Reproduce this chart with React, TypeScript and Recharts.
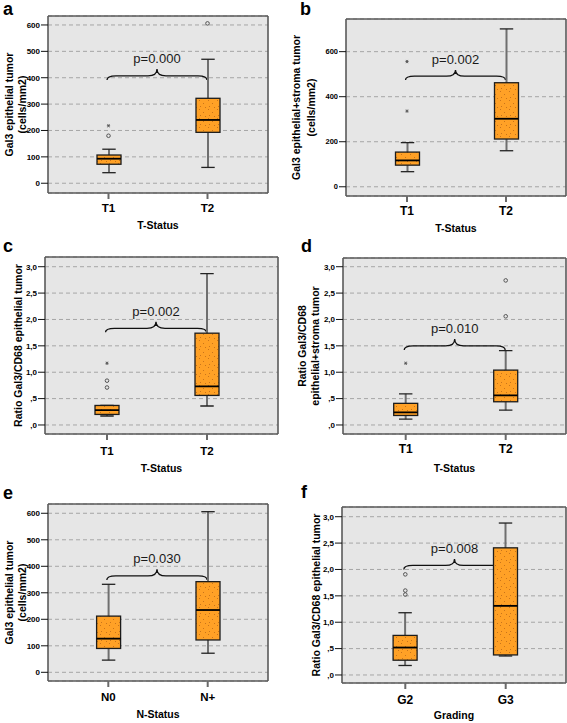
import React from "react";
import {
  ComposedChart,
  Bar,
  Scatter,
  XAxis,
  YAxis,
  CartesianGrid,
  ReferenceArea,
} from "recharts";

// ---------------- DATA ----------------
// box stats: [min, Q1, median, Q3, max]
const panelACategories = ["T1", "T2"];
const panelABoxes = [
  [40, 72, 93, 107, 129],
  [60, 193, 240, 322, 470],
];
const panelAOutliers = [
  { cat: "T1", value: 180, kind: "o" },
  { cat: "T1", value: 218, kind: "*" },
  { cat: "T2", value: 606, kind: "o" },
];
const panelABrace = [391, 433];
const panelAP = "p=0.000";

const panelBCategories = ["T1", "T2"];
const panelBBoxes = [
  [67, 96, 117, 154, 196],
  [160, 212, 302, 462, 701],
];
const panelBOutliers = [
  { cat: "T1", value: 336, kind: "*" },
  { cat: "T1", value: 556, kind: "*" },
];
const panelBBrace = [474, 519];
const panelBP = "p=0.002";

const panelCCategories = ["T1", "T2"];
const panelCBoxes = [
  [0.17, 0.2, 0.28, 0.37, 0.37],
  [0.36, 0.56, 0.73, 1.74, 2.87],
];
const panelCOutliers = [
  { cat: "T1", value: 1.17, kind: "*" },
  { cat: "T1", value: 0.84, kind: "o" },
  { cat: "T1", value: 0.71, kind: "o" },
];
const panelCBrace = [1.756, 1.956];
const panelCP = "p=0.002";

const panelDCategories = ["T1", "T2"];
const panelDBoxes = [
  [0.11, 0.18, 0.24, 0.41, 0.59],
  [0.28, 0.44, 0.56, 1.04, 1.41],
];
const panelDOutliers = [
  { cat: "T1", value: 1.17, kind: "*" },
  { cat: "T2", value: 2.06, kind: "o" },
  { cat: "T2", value: 2.74, kind: "o" },
];
const panelDBrace = [1.42, 1.63];
const panelDP = "p=0.010";

const panelECategories = ["N0", "N+"];
const panelEBoxes = [
  [46, 90, 127, 212, 332],
  [72, 122, 235, 342, 606],
];
const panelEOutliers: { cat: string; value: number; kind: string }[] = [];
const panelEBrace = [348, 389];
const panelEP = "p=0.030";

const panelFCategories = ["G2", "G3"];
const panelFBoxes = [
  [0.18, 0.28, 0.52, 0.75, 1.18],
  [0.36, 0.38, 1.31, 2.41, 2.88],
];
const panelFOutliers = [
  { cat: "G2", value: 1.525, kind: "o" },
  { cat: "G2", value: 1.6, kind: "o" },
  { cat: "G2", value: 1.907, kind: "o" },
];
const panelFBrace = [2.0, 2.2];
const panelFP = "p=0.008";

const countTicks = [0, 100, 200, 300, 400, 500, 600];
const countTickLabels = ["0", "100", "200", "300", "400", "500", "600"];
const countTicksB = [0, 200, 400, 600];
const countTickLabelsB = ["0", "200", "400", "600"];
const ratioTicks = [0, 0.5, 1, 1.5, 2, 2.5, 3];
const ratioTickLabels = [",0", ",5", "1,0", "1,5", "2,0", "2,5", "3,0"];

const panelLetters = ["a", "b", "c", "d", "e", "f"];

// ---------------- STYLE / LAYOUT ----------------
const FONT = "'Liberation Sans', Arial, Helvetica, sans-serif";
const BOX_FILL = "#ffa126";
const DOT = "#c9741a";

type PanelCfg = {
  letter: string;
  letterX: number;
  letterY: number;
  left: number;
  top: number;
  width: number;
  height: number;
  margin: { top: number; right: number; bottom: number; left: number };
  yWidth: number;
  xHeight: number;
  pad: { left: number; right: number };
  domain: [number, number];
  ticks: number[];
  tickLabels: string[];
  categories: string[];
  boxes: number[][];
  outliers: { cat: string; value: number; kind: string }[];
  brace: number[];
  pLabel: string;
  yTitle: string[];
  yTitleX: number[];
  xTitle: string;
  xTickBase: number;
  xTitleBase: number;
  yTickFont: number;
  xTickFont: number;
  titleFont: number;
};

const panels: PanelCfg[] = [
  {
    letter: panelLetters[0], letterX: 3, letterY: 15,
    left: 0, top: 0, width: 283, height: 240,
    margin: { top: 16, right: 15, bottom: 0, left: 0 },
    yWidth: 48, xHeight: 47, pad: { left: 11, right: 11 },
    domain: [-37, 634], ticks: countTicks, tickLabels: countTickLabels,
    categories: panelACategories, boxes: panelABoxes, outliers: panelAOutliers,
    brace: panelABrace, pLabel: panelAP,
    yTitle: ["Gal3 epithelial tumor", "(cells/mm2)"], yTitleX: [9, 21.5],
    xTitle: "T-Status", xTickBase: 19, xTitleBase: 36,
    yTickFont: 8, xTickFont: 11.5, titleFont: 10.5,
  },
  {
    letter: panelLetters[1], letterX: 300, letterY: 15,
    left: 283, top: 0, width: 284, height: 240,
    margin: { top: 19, right: 1, bottom: 0, left: 0 },
    yWidth: 63, xHeight: 44, pad: { left: 11.5, right: 10.5 },
    domain: [-41, 745], ticks: countTicksB, tickLabels: countTickLabelsB,
    categories: panelBCategories, boxes: panelBBoxes, outliers: panelBOutliers,
    brace: panelBBrace, pLabel: panelBP,
    yTitle: ["Gal3 epithelial+stroma tumor", "(cells/mm2)"], yTitleX: [13, 28],
    xTitle: "T-Status", xTickBase: 19, xTitleBase: 36,
    yTickFont: 7.5, xTickFont: 12, titleFont: 10.5,
  },
  {
    letter: panelLetters[2], letterX: 3, letterY: 252,
    left: 0, top: 240, width: 283, height: 240,
    margin: { top: 17, right: 5, bottom: 0, left: 0 },
    yWidth: 45, xHeight: 46, pad: { left: 12, right: 21 },
    domain: [-0.171, 3.184], ticks: ratioTicks, tickLabels: ratioTickLabels,
    categories: panelCCategories, boxes: panelCBoxes, outliers: panelCOutliers,
    brace: panelCBrace, pLabel: panelCP,
    yTitle: ["Ratio Gal3/CD68 epithelial tumor"], yTitleX: [18],
    xTitle: "T-Status", xTickBase: 21, xTitleBase: 38,
    yTickFont: 8, xTickFont: 11.5, titleFont: 10.5,
  },
  {
    letter: panelLetters[3], letterX: 301, letterY: 252,
    left: 283, top: 240, width: 284, height: 240,
    margin: { top: 18, right: 1, bottom: 0, left: 0 },
    yWidth: 60, xHeight: 46, pad: { left: 12.7, right: 10.3 },
    domain: [-0.171, 3.165], ticks: ratioTicks, tickLabels: ratioTickLabels,
    categories: panelDCategories, boxes: panelDBoxes, outliers: panelDOutliers,
    brace: panelDBrace, pLabel: panelDP,
    yTitle: ["Ratio Gal3/CD68", "epithelial+stroma tumor"], yTitleX: [19, 32],
    xTitle: "T-Status", xTickBase: 19, xTitleBase: 38,
    yTickFont: 8, xTickFont: 12, titleFont: 10.5,
  },
  {
    letter: panelLetters[4], letterX: 3, letterY: 499,
    left: 0, top: 480, width: 283, height: 243,
    margin: { top: 24, right: 15, bottom: 0, left: 0 },
    yWidth: 48, xHeight: 42, pad: { left: 10.6, right: 10.6 },
    domain: [-32.8, 635], ticks: countTicks, tickLabels: countTickLabels,
    categories: panelECategories, boxes: panelEBoxes, outliers: panelEOutliers,
    brace: panelEBrace, pLabel: panelEP,
    yTitle: ["Gal3 epithelial tumor", "(cells/mm2)"], yTitleX: [9, 21.5],
    xTitle: "N-Status", xTickBase: 20, xTitleBase: 37,
    yTickFont: 8, xTickFont: 11.5, titleFont: 10.5,
  },
  {
    letter: panelLetters[5], letterX: 301, letterY: 498,
    left: 283, top: 480, width: 284, height: 243,
    margin: { top: 27, right: 1, bottom: 0, left: 0 },
    yWidth: 59, xHeight: 40, pad: { left: 13.1, right: 10.1 },
    domain: [-0.152, 3.184], ticks: ratioTicks, tickLabels: ratioTickLabels,
    categories: panelFCategories, boxes: panelFBoxes, outliers: panelFOutliers,
    brace: panelFBrace, pLabel: panelFP,
    yTitle: ["Ratio Gal3/CD68 epithelial tumor"], yTitleX: [32.5],
    xTitle: "Grading", xTickBase: 21, xTitleBase: 36,
    yTickFont: 8, xTickFont: 12, titleFont: 10.5,
  },
];

function buildRows(categories: string[], boxes: number[][]) {
  return categories.map((cat, i) => {
    const [min, q1, median, q3, max] = boxes[i];
    return { cat, min, q1, median, q3, max, range: [min, max] };
  });
}

const BoxShape = (props: any) => {
  const { x, y, width, height, payload } = props;
  if (!payload || x == null || y == null) return <g />;
  const { min, q1, median, q3, max } = payload;
  const top = Math.min(y, y + height);
  const h = Math.abs(height);
  const span = max - min;
  const toPx = (v: number) => (span === 0 ? top : top + (h * (max - v)) / span);
  const cx = x + width / 2;
  const capHalf = width * 0.28;
  const yq3 = toPx(q3);
  const yq1 = toPx(q1);
  return (
    <g>
      <line x1={cx} x2={cx} y1={toPx(max)} y2={toPx(min)} stroke="#6f6f6f" strokeWidth={2} />
      <line x1={cx - capHalf} x2={cx + capHalf} y1={toPx(max)} y2={toPx(max)} stroke="#222" strokeWidth={1.3} />
      <line x1={cx - capHalf} x2={cx + capHalf} y1={toPx(min)} y2={toPx(min)} stroke="#222" strokeWidth={1.3} />
      <rect x={x} y={yq3} width={width} height={Math.max(yq1 - yq3, 0.5)} fill="url(#boxDots)" stroke="#1c1c1c" strokeWidth={1.3} />
      <line x1={x} x2={x + width} y1={toPx(median)} y2={toPx(median)} stroke="#000" strokeWidth={1.8} />
    </g>
  );
};

const OutlierShape = (props: any) => {
  const { cx, cy, payload } = props;
  if (cx == null || cy == null) return <g />;
  if (payload && payload.kind === "*") {
    const r = 1.6;
    return (
      <g stroke="#555" strokeWidth={0.9}>
        <line x1={cx - r} x2={cx + r} y1={cy} y2={cy} />
        <line x1={cx - r * 0.6} x2={cx + r * 0.6} y1={cy - r} y2={cy + r} />
        <line x1={cx - r * 0.6} x2={cx + r * 0.6} y1={cy + r} y2={cy - r} />
      </g>
    );
  }
  return <circle cx={cx} cy={cy} r={1.8} fill="none" stroke="#555" strokeWidth={1} />;
};

const makeBraceShape = (label: string) => (props: any) => {
  const { x, y, width, height } = props;
  if (x == null || y == null) return <g />;
  const band = width / 2;
  const x0 = x + band / 2 - 1.5;
  const x1 = x + width - band / 2 - 0.5;
  const top = y;
  const base = y + height;
  const flat = base - height * 0.38;
  const xm = (x0 + x1) / 2;
  const r = 9;
  const d = `M${x0},${base} Q${x0},${flat} ${x0 + r},${flat} L${xm - r},${flat} Q${xm},${flat} ${xm},${top} Q${xm},${flat} ${xm + r},${flat} L${x1 - r},${flat} Q${x1},${flat} ${x1},${base}`;
  return (
    <g>
      <path d={d} fill="none" stroke="#111" strokeWidth={1.3} />
      <text x={xm} y={top - 6} textAnchor="middle" fontFamily={FONT} fontSize={13} fill="#1a1a1a">
        {label}
      </text>
    </g>
  );
};

function Panel({ cfg }: { cfg: PanelCfg }) {
  const rows = buildRows(cfg.categories, cfg.boxes);
  const braceShape = makeBraceShape(cfg.pLabel);
  const yTitle = (p: any) => {
    const vb = p && p.viewBox ? p.viewBox : { x: 0, y: cfg.margin.top, width: cfg.yWidth, height: cfg.height - cfg.margin.top - cfg.xHeight };
    const cy = vb.y + vb.height / 2;
    return (
      <g>
        {cfg.yTitle.map((line, i) => {
          const cx = vb.x + cfg.yTitleX[i];
          return (
            <text
              key={i}
              x={cx}
              y={cy}
              transform={`rotate(-90 ${cx} ${cy})`}
              textAnchor="middle"
              dominantBaseline="central"
              fontFamily={FONT}
              fontWeight="bold"
              fontSize={cfg.titleFont}
              fill="#000"
            >
              {line}
            </text>
          );
        })}
      </g>
    );
  };
  const xTitle = (p: any) => {
    const vb = p && p.viewBox ? p.viewBox : { x: cfg.yWidth, y: cfg.height - cfg.xHeight, width: cfg.width - cfg.yWidth - cfg.margin.right, height: cfg.xHeight };
    return (
      <text
        x={vb.x + vb.width / 2}
        y={vb.y + cfg.xTitleBase}
        textAnchor="middle"
        fontFamily={FONT}
        fontWeight="bold"
        fontSize={cfg.titleFont}
        fill="#000"
      >
        {cfg.xTitle}
      </text>
    );
  };
  const xTick = (p: any) => (
    <text
      x={p.x}
      y={p.y - 6 + cfg.xTickBase}
      textAnchor="middle"
      fontFamily={FONT}
      fontWeight="bold"
      fontSize={cfg.xTickFont}
      fill="#000"
    >
      {p.payload ? p.payload.value : ""}
    </text>
  );
  return (
    <div style={{ position: "absolute", left: cfg.left, top: cfg.top, width: cfg.width, height: cfg.height }}>
      <ComposedChart width={cfg.width} height={cfg.height} data={rows} margin={cfg.margin}>
        <CartesianGrid vertical={false} fill="#e6e6e6" fillOpacity={1} stroke="#a6a6a6" strokeDasharray="4 3" />
        <XAxis
          dataKey="cat"
          type="category"
          allowDuplicatedCategory={false}
          height={cfg.xHeight}
          padding={cfg.pad}
          axisLine={false}
          tickLine={{ stroke: "#6a6a6a", strokeWidth: 2 }}
          tickSize={6}
          tickMargin={0}
          interval={0}
          tick={xTick}
          label={xTitle}
        />
        <YAxis
          type="number"
          domain={cfg.domain}
          allowDataOverflow
          ticks={cfg.ticks}
          interval={0}
          tickFormatter={(v: number) => {
            const idx = cfg.ticks.indexOf(v);
            return idx >= 0 ? cfg.tickLabels[idx] : String(v);
          }}
          width={cfg.yWidth}
          axisLine={false}
          tickLine={{ stroke: "#111", strokeWidth: 1 }}
          tickSize={7}
          tickMargin={1}
          tick={{ fontFamily: FONT, fontWeight: "bold", fontSize: cfg.yTickFont, fill: "#000" }}
          label={yTitle}
        />
        <Bar dataKey="range" barSize={24} shape={BoxShape} isAnimationActive={false} />
        <Scatter data={cfg.outliers} dataKey="value" shape={OutlierShape} isAnimationActive={false} />
        <ReferenceArea
          x1={cfg.categories[0]}
          x2={cfg.categories[1]}
          y1={cfg.brace[0]}
          y2={cfg.brace[1]}
          ifOverflow="visible"
          shape={braceShape}
        />
        <CartesianGrid
          fill="none"
          stroke="#5a5a5a"
          strokeWidth={1.6}
          horizontalCoordinatesGenerator={(p: any) => [p.offset.top, p.offset.top + p.offset.height]}
          verticalCoordinatesGenerator={(p: any) => [p.offset.left, p.offset.left + p.offset.width]}
        />
      </ComposedChart>
    </div>
  );
}

export default function App() {
  return (
    <div style={{ position: "absolute", left: 0, top: 0, width: 567, height: 723, background: "#fff", overflow: "hidden" }}>
      {panels.map((cfg) => (
        <Panel key={cfg.letter} cfg={cfg} />
      ))}
      <svg width={567} height={723} style={{ position: "absolute", left: 0, top: 0, pointerEvents: "none" }}>
        <defs>
          <pattern id="boxDots" width="9" height="9" patternUnits="userSpaceOnUse">
            <rect width="9" height="9" fill={BOX_FILL} />
            <rect x="1" y="1" width="1" height="1" fill={DOT} />
            <rect x="5" y="4" width="1" height="1" fill={DOT} />
            <rect x="2" y="7" width="1" height="1" fill={DOT} />
            <rect x="7" y="8" width="1" height="1" fill={DOT} />
          </pattern>
        </defs>
        {panels.map((cfg) => (
          <text key={cfg.letter} x={cfg.letterX} y={cfg.letterY} fontFamily={FONT} fontWeight="bold" fontSize={18} fill="#000">
            {cfg.letter}
          </text>
        ))}
      </svg>
    </div>
  );
}
